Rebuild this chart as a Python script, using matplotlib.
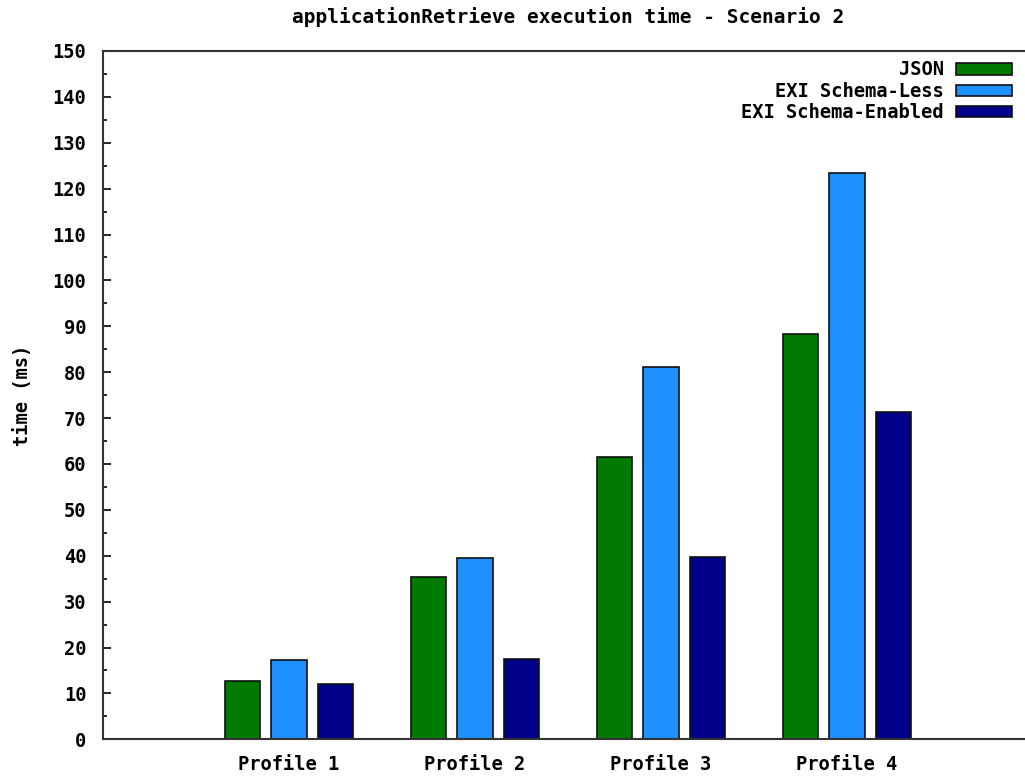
import numpy as np
import matplotlib
matplotlib.use("Agg")
import matplotlib.pyplot as plt

# --- data ---
profiles = ["Profile 1", "Profile 2", "Profile 3", "Profile 4"]
series_names = ["JSON", "EXI Schema-Less", "EXI Schema-Enabled"]
json_ms = [12.6, 35.4, 61.6, 88.4]
exi_less_ms = [17.3, 39.5, 81.1, 123.5]
exi_enabled_ms = [12.0, 17.4, 39.8, 71.4]
colors = ["#007a00", "#1e90ff", "#00008b"]

plt.rcParams["font.family"] = ["DejaVu Sans Mono"]
plt.rcParams["font.weight"] = "bold"

fig = plt.figure(figsize=(10.25, 7.76), dpi=100)
ax = fig.add_axes([103 / 1025, 1 - 739.3 / 776, 930 / 1025, 688.3 / 776])

x = np.arange(len(profiles))
width = 0.19
offsets = [-0.25, 0.0, 0.25]
for vals, off, col, name in zip([json_ms, exi_less_ms, exi_enabled_ms], offsets, colors, series_names):
    ax.bar(x + off, vals, width, color=col, edgecolor="#101010", linewidth=1.2, label=name, zorder=2)

ax.set_xlim(-1, 4)
ax.set_ylim(0, 150)
ax.set_yticks(np.arange(0, 151, 10))
ax.set_yticks(np.arange(5, 150, 10), minor=True)
ax.set_xticks(x)
ax.set_xticklabels(profiles)

ax.tick_params(axis="y", which="major", direction="in", length=6, width=1.2, pad=12, labelsize=13.5)
ax.tick_params(axis="y", which="minor", direction="in", length=3, width=1.2)
ax.tick_params(axis="x", length=0, pad=11, labelsize=13.5)

for side in ["left", "bottom", "top", "right"]:
    ax.spines[side].set_linewidth(1.5)
    ax.spines[side].set_color("#333333")

ax.set_title("applicationRetrieve execution time - Scenario 2", fontsize=14, fontweight="bold", pad=20)
ax.set_ylabel("time (ms)", fontsize=13.5, fontweight="bold")
ax.yaxis.set_label_coords(-71 / 930, 0.5)

leg = ax.legend(loc="upper right", bbox_to_anchor=(0.994, 1.008), frameon=False,
                markerfirst=False, fontsize=13.5, handlelength=3.0, handleheight=0.55,
                labelspacing=0.13, handletextpad=0.65, borderaxespad=0.4)
for t in leg.get_texts():
    t.set_ha("right")

fig.savefig("out.png", dpi=100)
